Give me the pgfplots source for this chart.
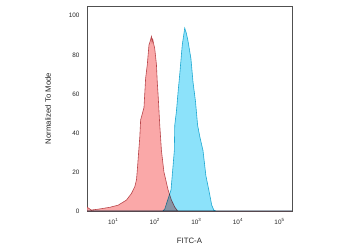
\documentclass[border=0pt]{standalone}
\usepackage{fontspec}
\setmainfont{Liberation Sans}
\usepackage{pgfplots}
\pgfplotsset{compat=1.18}
\definecolor{redfill}{RGB}{250,168,168}
\definecolor{rededge}{RGB}{185,70,75}
\definecolor{bluefill}{RGB}{140,226,250}
\definecolor{blueedge}{RGB}{45,180,212}
\definecolor{framec}{RGB}{80,80,80}
\begin{document}
\begin{tikzpicture}
\begin{axis}[
  at={(0,0)}, anchor=south west,
  scale only axis, width=205bp, height=205bp,
  xmode=log, log basis x=10,
  xmin=2.344, xmax=199526,
  ymin=0, ymax=105,
  xtick={10,100,1000,10000,100000},
  xticklabels={10\textsuperscript{1},10\textsuperscript{2},10\textsuperscript{3},10\textsuperscript{4},10\textsuperscript{5}},
  ytick={0,20,40,60,80,100},
  minor xtick={},
  major tick length=0pt, minor tick length=0pt,
  axis line style={framec, line width=0.8pt},
  tick label style={font=\fontsize{6.4}{7}\selectfont, text=black!85},
  /pgf/number format/assume math mode=true,
  xticklabel style={yshift=-4bp},
  yticklabel style={xshift=-4bp},
  xlabel={FITC-A}, ylabel={Normalized To Mode},
  label style={font=\fontsize{7.8}{9}\selectfont, text=black!85},
  xlabel style={at={(axis description cs:0.5,0)}, anchor=center, yshift=-30bp},
  ylabel style={at={(axis description cs:0,0.5)}, anchor=center, xshift=0bp, yshift=39bp},
]
\addplot[fill=redfill, draw=rededge, line width=0.6pt] coordinates {
(2.344,2) (2.951,0.5) (4.266,0.9) (8.318,1.9) (13.18,3) (20.89,5.6)
(27.54,9) (33.11,12.5) (36.31,16) (38.02,21) (40.74,29.6) (43.65,38)
(45.71,46.7) (48.98,49) (54.95,53) (60.26,68) (66.07,75) (72.44,85)
(77.62,87) (83.18,89.4) (86.0,86.5) (89.13,88) (100,83) (109.6,75)
(114.8,66) (120.2,59.5) (131.8,44) (144.5,31) (166.0,20) (208.9,10.8)
(251.2,5.6) (302.0,2) (354.8,0) (199526,0)
} \closedcycle;
\addplot[fill=bluefill, draw=blueedge, line width=0.6pt, blend mode=multiply] coordinates {
(2.344,0) (154.9,0) (173.8,1) (204.2,5.6) (245.5,10.8) (295.1,31) (302.0,44)
(331.1,51) (363.1,61) (398.1,70) (457.1,85) (524.8,93.7) (575.4,91)
(631.0,87) (741.3,78) (831.8,66) (955.0,56) (1071.5,44) (1213.4,38)
(1445.4,31) (1698.2,18) (1995.3,10.8) (2344.2,3) (2630.3,0.5) (2951.2,0)
(199526,0)
} \closedcycle;
\end{axis}
\pgfresetboundingbox
\path[use as bounding box] (-87bp,-40bp) rectangle (263bp,211bp);
\end{tikzpicture}
\end{document}
